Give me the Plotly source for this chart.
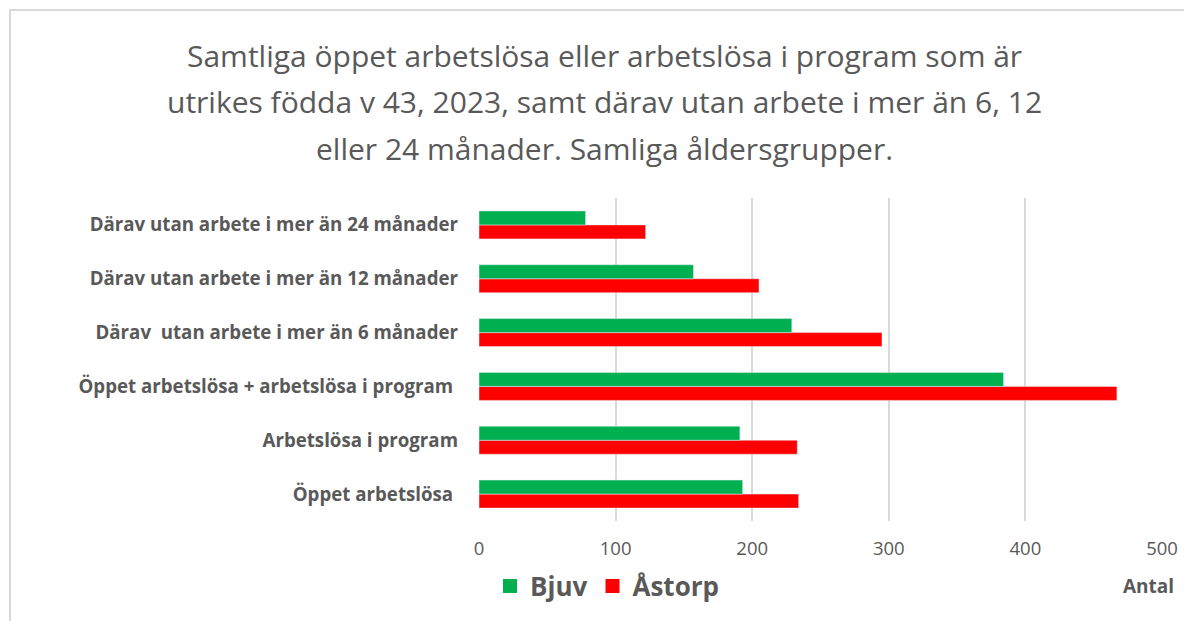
import plotly.graph_objects as go

categories = [
    "Öppet arbetslösa ",
    "Arbetslösa i program",
    "Öppet arbetslösa + arbetslösa i program ",
    "Därav  utan arbete i mer än 6 månader",
    "Därav utan arbete i mer än 12 månader",
    "Därav utan arbete i mer än 24 månader",
]
bjuv = [193, 191, 384, 229, 157, 78]
astorp = [234, 233, 467, 295, 205, 122]
x_ticks = [0, 100, 200, 300, 400, 500]
title_lines = [
    "Samtliga öppet arbetslösa eller arbetslösa i program som är",
    "utrikes födda v 43, 2023, samt därav utan arbete i mer än 6, 12",
    "eller 24 månader. Samliga åldersgrupper.",
]

# page is offset by the 8px body margin
OFF = 8
W, H = 1192 - OFF, 621 - OFF
L, R, T, B = 479, 1162, 198, 521   # page pixel coords of plot area
FONT = "Open Sans"
GRAY = "#595959"
GREEN = "#00b050"
RED = "#ff0000"


def px(x):
    return (x - L) / (R - L)


def py(y):
    return (B - y) / (B - T)


fig = go.Figure()
fig.add_trace(go.Bar(
    y=categories, x=astorp, name="Åstorp", orientation="h",
    marker=dict(color=RED), showlegend=False,
))
fig.add_trace(go.Bar(
    y=categories, x=bjuv, name="Bjuv", orientation="h",
    marker=dict(color=GREEN), showlegend=False,
))
# legend entries with larger square swatches
for name, color, rank in [("Bjuv", GREEN, 1), ("Åstorp", RED, 2)]:
    fig.add_trace(go.Scatter(
        x=[None], y=[None], mode="markers", name=name, legendrank=rank,
        marker=dict(symbol="square", size=14, color=color),
        showlegend=True, hoverinfo="skip",
    ))

annotations = []
for line, yc in zip(title_lines, [55, 102, 148]):
    annotations.append(dict(
        text=line, x=px(604), y=py(yc), xref="paper", yref="paper",
        xanchor="center", yanchor="middle", showarrow=False,
        font=dict(family=FONT, size=30, color=GRAY),
    ))
annotations.append(dict(
    text="<b>Antal</b>", x=px(1148), y=py(586), xref="paper", yref="paper",
    xanchor="center", yanchor="middle", showarrow=False,
    font=dict(family=FONT, size=19, color=GRAY),
))

fig.update_layout(
    width=W, height=H,
    margin=dict(l=L - OFF, r=W - (R - OFF), t=T - OFF, b=H - (B - OFF)),
    paper_bgcolor="white", plot_bgcolor="white",
    barmode="group", bargap=0.48, bargroupgap=0,
    showlegend=True,
    legend=dict(
        orientation="h", x=px(490), y=py(586), xanchor="left", yanchor="middle",
        font=dict(family=FONT, size=26, color=GRAY, weight="bold"),
        itemwidth=30, traceorder="normal",
    ),
    annotations=annotations,
    shapes=[dict(
        type="rect", xref="paper", yref="paper",
        x0=px(10), x1=px(1250), y0=py(700), y1=py(10),
        line=dict(color="#d9d9d9", width=2), fillcolor="rgba(0,0,0,0)",
        layer="below",
    )],
    xaxis=dict(
        range=[0, 500], tickvals=x_ticks, showgrid=True,
        gridcolor="#d9d9d9", gridwidth=1.5, zeroline=False,
        showline=False, ticks="",
        tickfont=dict(family=FONT, size=18.5, color=GRAY),
        ticklabelstandoff=14,
    ),
    yaxis=dict(
        showgrid=False, zeroline=False, showline=False, ticks="",
        tickfont=dict(family=FONT, size=18.7, color=GRAY, weight="bold"),
        ticklabelstandoff=20,
    ),
)

fig.write_html("out.html")
